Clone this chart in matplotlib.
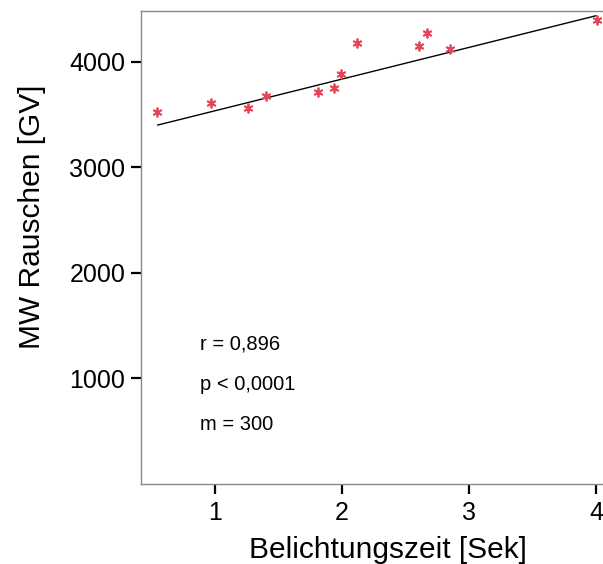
import numpy as np
import matplotlib.pyplot as plt

plt.rcParams['font.family'] = ['Liberation Sans', 'DejaVu Sans']

# Belichtungszeit [Sek] vs. MW Rauschen [GV]
zeit = [0.54, 0.97, 1.26, 1.40, 1.81, 1.94, 1.99, 2.12, 2.61, 2.67, 2.85, 4.01]
rauschen = [3526, 3606, 3558, 3678, 3716, 3748, 3883, 4174, 4149, 4275, 4118, 4395]

# regression line
steigung = 300
achse = 3235
fit_x = np.array([0.55, 4.0])

stats = ['r = 0,896', 'p < 0,0001', 'm = 300']
stats_y = [1330, 940, 560]

fig = plt.figure(figsize=(6.03, 5.64), dpi=100)
ax = fig.add_axes([0.2333, 0.1418, 0.776, 0.8387])

ax.plot(fit_x, achse + steigung * fit_x, color='black', lw=1.0)
ax.plot(zeit, rauschen, linestyle='none', marker=(6, 2, 0), markersize=7,
        mew=1.3, color='#e2475a')

for s, y in zip(stats, stats_y):
    ax.text(0.88, y, s, fontsize=14.5, va='center', ha='left')

ax.set_xlim(0.415, 4.1)
ax.set_ylim(0, 4480)
ax.set_xticks([1, 2, 3, 4])
ax.set_yticks([1000, 2000, 3000, 4000])
ax.tick_params(labelsize=18, length=7, width=1.6, pad=4)
ax.tick_params(axis='x', pad=5)

for sp in ax.spines.values():
    sp.set_color('#8a8a8a')
    sp.set_linewidth(1.0)

ax.set_xlabel('Belichtungszeit [Sek]', fontsize=21.5, labelpad=6)
ax.set_ylabel('MW Rauschen [GV]', fontsize=21.5, labelpad=17)
ax.xaxis.set_label_coords(0.528, -0.11)
ax.yaxis.label.set_position((0, 0.565))

fig.savefig('out.png', dpi=100)
